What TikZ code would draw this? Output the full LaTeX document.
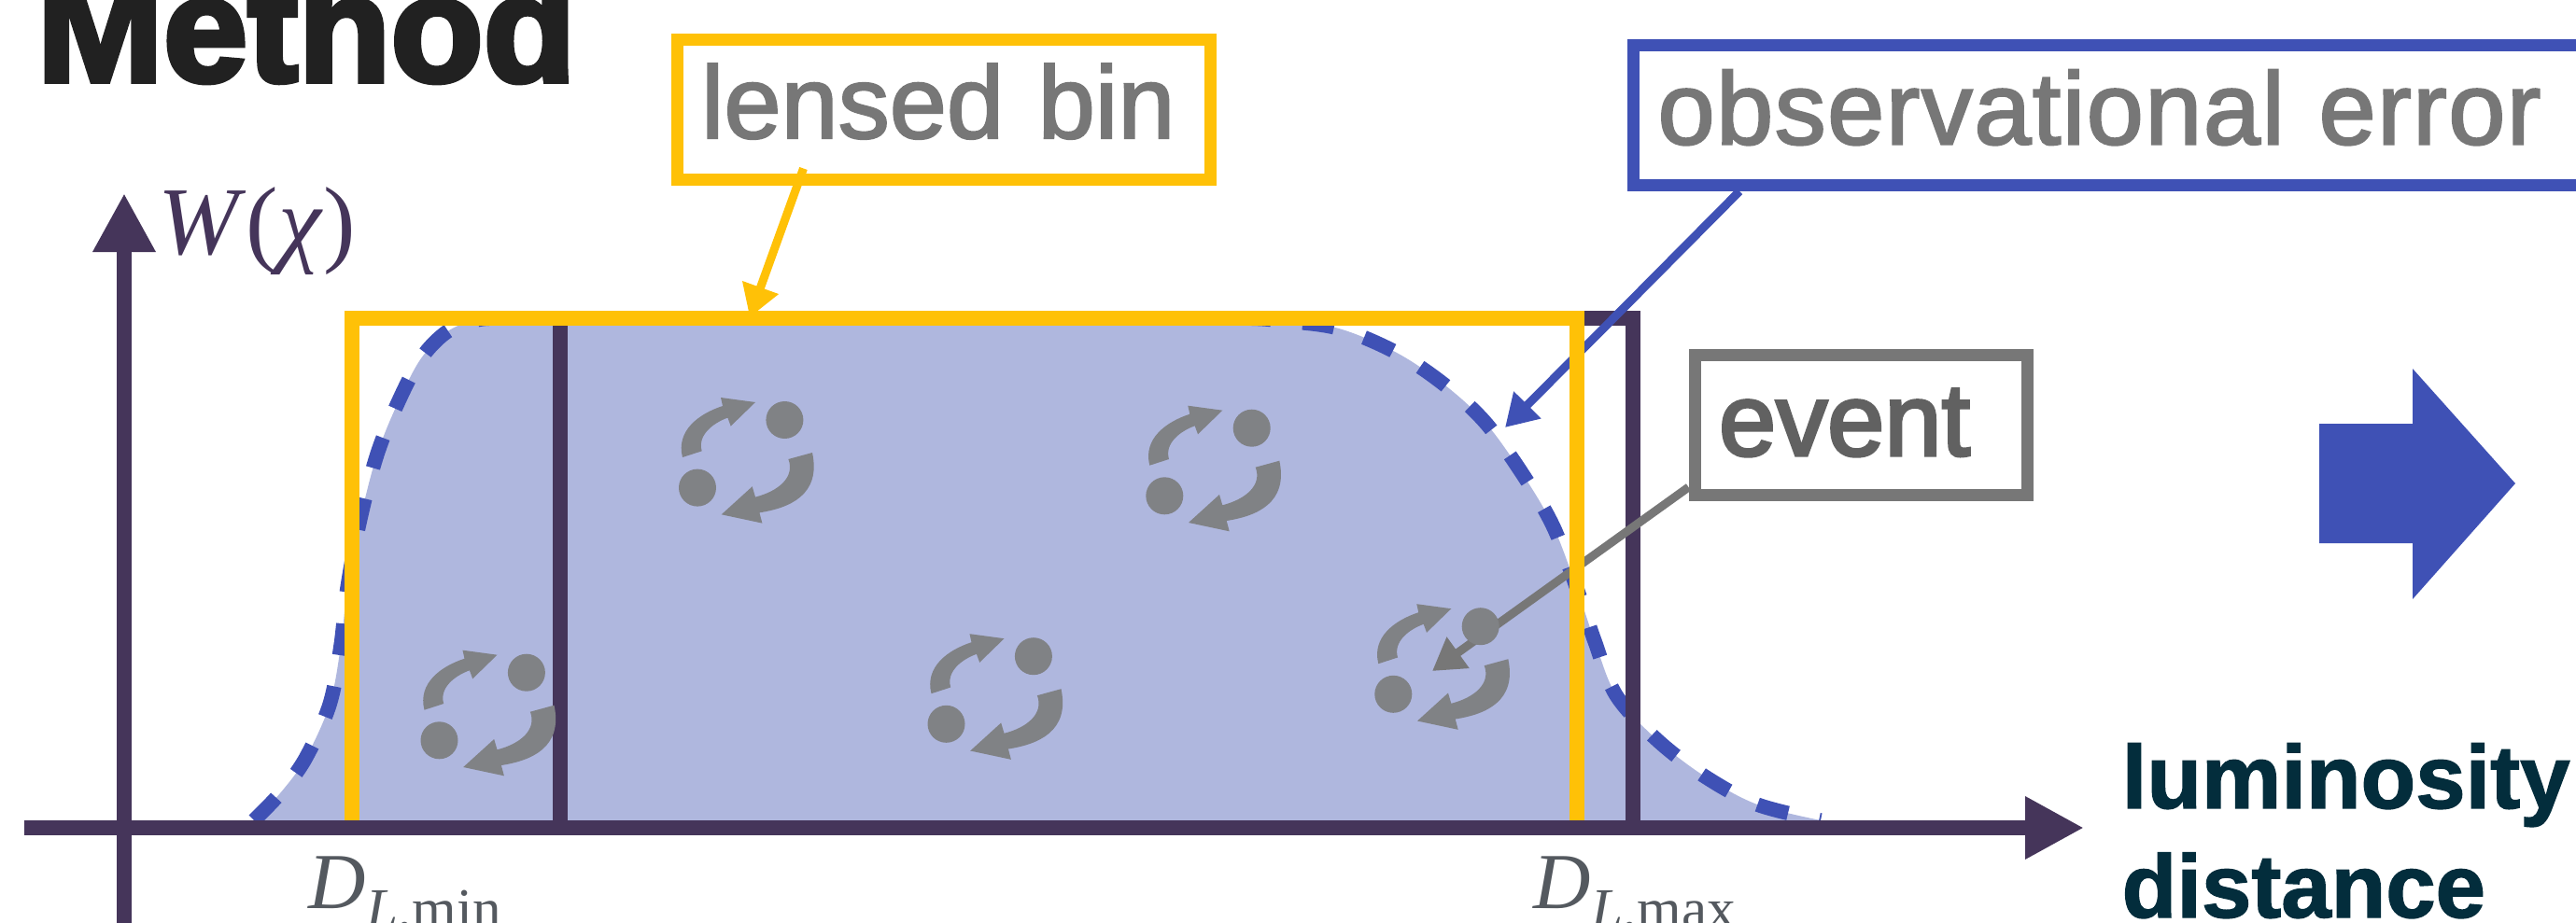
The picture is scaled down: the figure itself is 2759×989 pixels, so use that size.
\documentclass[tikz,border=0pt]{standalone}
\usepackage{fontspec}
\usepackage{xcolor}
\usetikzlibrary{arrows.meta,calc}
\setmainfont{Liberation Sans}
\newfontfamily\labelfont[FakeBold=2]{Liberation Sans}
\newfontfamily\eventfont[FakeBold=3]{Liberation Sans}
\newfontfamily\titlefont[FakeBold=3.5]{Liberation Sans Bold}
\newfontfamily\axisfont[FakeBold=1.5]{Liberation Sans Bold}
\newfontfamily\mathfont{Liberation Serif}
\definecolor{axispurple}{HTML}{45355A}
\definecolor{binyellow}{HTML}{FFC107}
\definecolor{errblue}{HTML}{3F51B5}
\definecolor{errfill}{HTML}{AFB7DE}
\definecolor{eventgray}{HTML}{808285}
\definecolor{boxgray}{HTML}{777777}
\definecolor{darkteal}{HTML}{032D3C}
\definecolor{dlabelgray}{HTML}{54595F}
\newcommand{\dlabel}[1]{{\itshape D}\raisebox{-2.1mm}{\fontsize{17.4}{20}\selectfont{\itshape L},#1}}
\newcommand{\wcurve}{plot[smooth,tension=.55] coordinates {(272,879) (300,850) (327,813) (353,755) (365,692) (372,630) (385,560) (402,493) (421,443) (449,387) (478,356) (510,343) (550,341) (700,341) (1200,341) (1330,341) (1375,344) (1434,352) (1496,378) (1548,413) (1592,454) (1634,513) (1664,565) (1688,628) (1708,687) (1731,745) (1775,793) (1826,832) (1882,862) (1950,879)}}

\begin{document}
\begin{tikzpicture}[
  x=.1mm, y=-.1mm,
  axisline/.style={line width=1.6mm, color=axispurple, -{Triangle[length=6.3mm,width=6.3mm]}},
  binline/.style={line width=1.6mm, miter limit=10},
  labelbox/.style={
    rectangle, draw, line width=1.3mm, fill=white,
    inner sep=2.6mm, text height=8mm, text depth=1.8mm, align=left,
    font=\labelfont\fontsize{31.3}{36}\selectfont, text=boxgray
  },
  connarr/.style={line width=.9mm, -{Triangle[length=3.4mm,width=3.9mm]}},
  eventpair/.pic={
    \fill[eventgray] (46.7,-36.3) circle (20) (-46.7,36.3) circle (20);
    \fill[eventgray] (-62.7,3.7) .. controls (-70,-25) and (-45,-43) .. (-19.7,-51.3)
      -- (-21.7,-60.3) -- (15.3,-55.3) -- (-11,-29.7) -- (-14.3,-38.7)
      .. controls (-30,-33) and (-47,-20) .. (-42,-3) -- cycle;
    \fill[eventgray] (76.3,-1.3) .. controls (86,44) and (52,58) .. (19.7,63)
      -- (22.7,74.3) -- (-21,65) -- (12,35) -- (15.3,46.3)
      .. controls (40,40) and (58,25) .. (50.7,5.7) -- cycle;
  }
]
\useasboundingbox (0,0) rectangle (2759,989);

\node[anchor=base west, inner sep=0pt, font=\titlefont\fontsize{46.2}{50}\selectfont, text=black!87] (method) at (39,87) {Method};

% window and error curve
\fill[errfill] \wcurve -- cycle;
\draw[errblue, line width=1.55mm, dash pattern=on 3.4mm off 3.4mm] \wcurve;
\draw[binline, axispurple] (600,887) |- (1749,341) -- (1749,887);

\node[labelbox, draw=binyellow, text width=51.9mm] (lensbox) at (1010.5,117) {lensed bin};
\node[labelbox, draw=errblue, text width=98.8mm] (obsbox) at (2269.5,123.5) {\addfontfeature{LetterSpace=1.3}observational error};
\node[labelbox, draw=boxgray, text width=30.4mm, text height=8.2mm, text depth=1.6mm, text=black!62, font=\eventfont\fontsize{31.3}{36}\selectfont] (eventbox) at (1993,455) {event};

\coordinate (lenstip) at (803,340);
\coordinate (obstip) at (1612,458);
\coordinate (eventtip) at (1534,719);
\draw[connarr, binyellow] ([xshift=14.2mm,yshift=1.8mm]lensbox.south west) -- (lenstip);
\draw[connarr, errblue] ([xshift=12mm]obsbox.south west) -- (obstip);
\draw[connarr, boxgray] ([yshift=-6.7mm]eventbox.west) -- (eventtip);

\draw[binline, binyellow] (377,887) |- (1689,341) -- (1689,887);

\foreach \px/\py in {793.7/486.3, 1060.2/739.5, 517.2/757, 1294/495, 1539/707.5}
  \pic at (\px,\py) {eventpair};

\coordinate (yfoot) at (133,1000);
\coordinate (ytip) at (133,207);
\coordinate (xfoot) at (26,887);
\coordinate (xtip) at (2232,887);
\draw[axisline] (yfoot) -- (ytip);
\draw[axisline] (xfoot) -- (xtip);

\node[anchor=base west, inner sep=0pt, text=axispurple, font=\mathfont\fontsize{29.5}{34}\selectfont] (wlabel) at (169,272) {\textit{W}(\textit{χ})};
\node[anchor=base west, inner sep=0pt, text=dlabelgray, font=\mathfont\fontsize{24.2}{28}\selectfont] (dmin) at (330,973) {\dlabel{min}};
\node[anchor=base west, inner sep=0pt, text=dlabelgray, font=\mathfont\fontsize{24.2}{28}\selectfont] (dmax) at (1642,973) {\dlabel{max}};
\node[anchor=base west, inner sep=0pt, align=left, text=darkteal, font=\axisfont\fontsize{27.3}{33.3}\selectfont] (distlabel) at (2272,983) {luminosity\\distance};

\fill[errblue] (2484,454) -- (2584,454) -- (2584,395) -- (2694,518) -- (2584,642) -- (2584,582) -- (2484,582) -- cycle;
\end{tikzpicture}
\end{document}
